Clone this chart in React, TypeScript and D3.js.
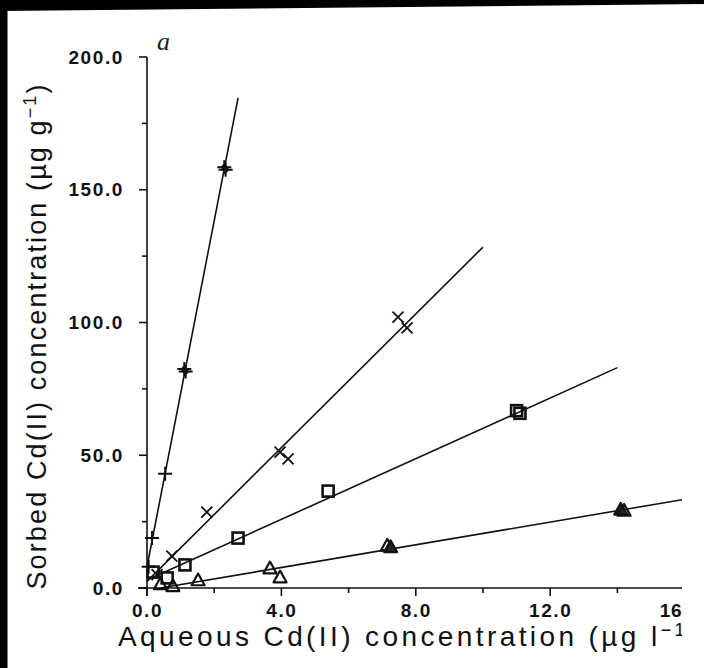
import * as d3 from 'd3'

// replicate points (x in µg l-1, y in µg g-1)
const plusX = [0.05, 0.15, 0.54, 1.11, 1.15, 2.3, 2.34]
const plusY = [8, 18.8, 43, 82.5, 81.5, 158.5, 157.5]

const crossX = [0.3, 0.74, 1.78, 3.96, 4.2, 7.47, 7.74]
const crossY = [5, 12, 28.6, 51.2, 48.6, 102, 98]

const squareX = [0.18, 0.6, 1.13, 2.71, 5.39, 11.0, 11.1]
const squareY = [6, 3.8, 8.7, 18.8, 36.5, 66.8, 65.8]

const triangleX = [0.4, 0.77, 1.52, 3.66, 3.96, 7.15, 7.25, 14.1, 14.2]
const triangleY = [1.5, 0.8, 3.0, 7.5, 4.1, 16, 15.5, 29.6, 29.2]

// fitted isotherm lines: [x0, y0, x1, y1]
const fitPlus = [0, 8, 2.71, 184.6]
const fitCross = [0, 2.5, 10, 128.4]
const fitSquare = [0, 3, 14, 83]
const fitTriangle = [0.4, 0, 16, 33.4]

const xTicks = [0, 4, 8, 12, 16]
const xTickLabels = ['0.0', '4.0', '8.0', '12.0', '16']
const xMinor = [2, 6, 10, 14]
const yTicks = [0, 50, 100, 150, 200]
const yTickLabels = ['0.0', '50.0', '100.0', '150.0', '200.0']
const yMinor = [25, 75, 125, 175]

const App = () => {
    const svgWidth = 704
    const svgHeight = 668
    const clipRight = 682

    const x = d3.scaleLinear().domain([0, 16]).range([147, 684.6])
    const y = d3.scaleLinear().domain([0, 200]).range([588, 57])

    const line = d3.line<[number, number]>()
        .x(d => x(d[0]))
        .y(d => y(d[1]))

    const fits = [fitPlus, fitCross, fitSquare, fitTriangle].map((f, i) => (
        <path
            key={'fit' + i}
            d={line([[f[0], f[1]], [f[2], f[3]]]) as string}
            stroke='#111'
            strokeWidth={1.6}
            fill='none'
        />
    ))

    const plusMarks = plusX.map((v, i) => {
        const cx = x(v)
        const cy = y(plusY[i])
        const s = 7
        return (
            <g key={'p' + i}>
                <path d={`M${cx - s},${cy}H${cx + s}M${cx},${cy - s}V${cy + s}`} stroke='#111' strokeWidth={2} />
                {i > 2 && <path d={`M${cx - 4},${cy}L${cx},${cy - 4}L${cx + 4},${cy}L${cx},${cy + 4}Z`} fill='#111' />}
            </g>
        )
    })

    const crossMarks = crossX.map((v, i) => {
        const cx = x(v)
        const cy = y(crossY[i])
        const s = 5.5
        return (
            <path
                key={'c' + i}
                d={`M${cx - s},${cy - s}L${cx + s},${cy + s}M${cx + s},${cy - s}L${cx - s},${cy + s}`}
                stroke='#111'
                strokeWidth={1.8}
            />
        )
    })

    const squareMarks = squareX.map((v, i) => (
        <rect
            key={'s' + i}
            x={x(v) - 5.5}
            y={y(squareY[i]) - 5.5}
            width={11}
            height={11}
            fill='none'
            stroke='#111'
            strokeWidth={2.6}
        />
    ))

    const triangleMarks = triangleX.map((v, i) => {
        const cx = x(v)
        const cy = y(triangleY[i])
        const s = 6.5
        const filled = i === 6 || i === 7
        return (
            <path
                key={'t' + i}
                d={`M${cx},${cy - s}L${cx + s},${cy + s * 0.8}L${cx - s},${cy + s * 0.8}Z`}
                fill={filled ? '#222' : 'none'}
                stroke='#111'
                strokeWidth={2.2}
                strokeLinejoin='round'
            />
        )
    })

    const tickFont = {
        fontFamily: 'Liberation Sans, Arial, sans-serif',
        fontWeight: 700,
        fontSize: 19,
        letterSpacing: 1.6,
        fill: '#111'
    }

    const xAxis = (
        <g>
            <path d={`M${x(0) - 9},${y(0)}H${clipRight}`} stroke='#111' strokeWidth={1.6} />
            {xTicks.map((t, i) => {
                const last = i === xTicks.length - 1
                return (
                    <g key={'xt' + i}>
                        <line x1={x(t)} x2={x(t)} y1={y(0)} y2={y(0) + 8} stroke='#111' strokeWidth={1.6} />
                        <text
                            x={last ? clipRight : x(t) + 0.5}
                            y={y(0) + 22}
                            textAnchor={last ? 'end' : 'middle'}
                            dominantBaseline='central'
                            style={{ ...tickFont, letterSpacing: last ? 0.5 : 1.6 }}
                        >
                            {xTickLabels[i]}
                        </text>
                    </g>
                )
            })}
            {xMinor.map((t, i) => (
                <line key={'xm' + i} x1={x(t)} x2={x(t)} y1={y(0)} y2={y(0) + 5} stroke='#111' strokeWidth={1.6} />
            ))}
        </g>
    )

    const yAxis = (
        <g>
            <path d={`M${x(0)},${y(200)}V${y(0) + 8}`} stroke='#111' strokeWidth={1.6} />
            {yTicks.map((t, i) => (
                <g key={'yt' + i}>
                    <line x1={x(0) - 8} x2={x(0)} y1={y(t)} y2={y(t)} stroke='#111' strokeWidth={1.6} />
                    <text x={124} y={y(t)} textAnchor='end' dominantBaseline='central' style={tickFont}>
                        {yTickLabels[i]}
                    </text>
                </g>
            ))}
            {yMinor.map((t, i) => (
                <line key={'ym' + i} x1={x(0) - 5} x2={x(0)} y1={y(t)} y2={y(t)} stroke='#111' strokeWidth={1.6} />
            ))}
        </g>
    )

    const labelFont = {
        fontFamily: 'Liberation Sans, Arial, sans-serif',
        fontSize: 27,
        fill: '#111'
    }

    return (
        <svg
            width={svgWidth}
            height={svgHeight}
            style={{ position: 'absolute', left: 0, top: 0, background: '#fff' }}
        >
            <defs>
                <clipPath id='plotClip'>
                    <rect x={0} y={0} width={clipRight} height={svgHeight} />
                </clipPath>
            </defs>
            <rect x={0} y={0} width={svgWidth} height={svgHeight} fill='#fff' />
            <g clipPath='url(#plotClip)'>
                {fits}
                {xAxis}
                {yAxis}
                {plusMarks}
                {crossMarks}
                {squareMarks}
                {triangleMarks}
                <text x={118} y={646} style={{ ...labelFont, fontSize: 28, letterSpacing: 3.4 }}>
                    Aqueous Cd(II) concentration (µg l<tspan dy={-10} fontSize={18}>−1</tspan><tspan dy={10}>)</tspan>
                </text>
            </g>
            <text
                transform={`translate(46, 337) rotate(-90)`}
                textAnchor='middle'
                style={labelFont}
                textLength={505}
                lengthAdjust='spacing'
            >
                Sorbed Cd(II) concentration (µg g<tspan dy={-10} fontSize={18}>−1</tspan><tspan dy={10}>)</tspan>
            </text>
            <text x={157} y={50} style={{ fontFamily: 'Liberation Serif, serif', fontStyle: 'italic', fontSize: 26, fill: '#222' }}>
                a
            </text>
            <path d={`M0,0H${svgWidth}V4L0,11Z`} fill='#000' />
            <rect x={0} y={0} width={7.5} height={svgHeight} fill='#000' />
        </svg>
    )
}

export default App
